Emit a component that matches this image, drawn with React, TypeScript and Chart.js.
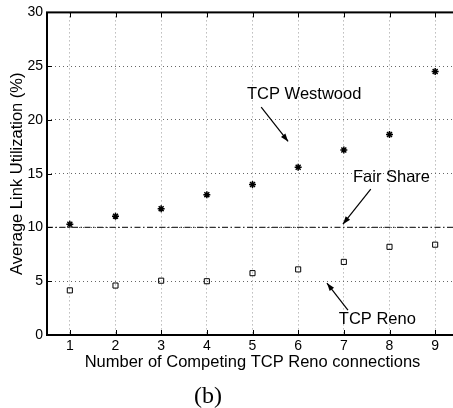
import React, { useEffect, useRef } from "react";
import { Chart, registerables } from "chart.js";

Chart.register(...registerables);

// Number of competing TCP Reno connections on the bottleneck link
const connections = [1, 2, 3, 4, 5, 6, 7, 8, 9];
// Average link utilization (%) of the single TCP Westwood flow
const westwoodUtil = [10.3, 11.05, 11.75, 13.05, 14.0, 15.6, 17.2, 18.65, 24.5];
// Average link utilization (%) of each TCP Reno flow
const renoUtil = [4.15, 4.6, 5.05, 5.0, 5.75, 6.1, 6.8, 8.2, 8.4];
// Fair share of the link (%)
const fairShare = 10;
const yTicks = [0, 5, 10, 15, 20, 25, 30];

const SANS = '"Liberation Sans", Arial, Helvetica, sans-serif';

// Callout labels with arrows, placed in data units
const callouts = [
  { text: "TCP Westwood", at: [4.88, 22.4], from: [5.19, 21.18], to: [5.78, 18.0] },
  { text: "Fair Share", at: [7.2, 14.63], from: [7.59, 13.56], to: [6.98, 10.3] },
  { text: "TCP Reno", at: [6.89, 1.49], from: [7.09, 2.32], to: [6.63, 4.83] },
];

const framePlugin = {
  id: "matlabFrame",
  afterDraw(chart: any) {
    const { ctx, chartArea: a, scales } = chart;
    const x = scales.x;
    const y = scales.y;
    ctx.save();
    ctx.strokeStyle = "#000";
    ctx.lineWidth = 1;
    const seg = (x1: number, y1: number, x2: number, y2: number) => {
      ctx.beginPath();
      ctx.moveTo(x1, y1);
      ctx.lineTo(x2, y2);
      ctx.stroke();
    };
    // inward tick marks
    x.ticks.forEach((t: any) => {
      const px = Math.round(x.getPixelForValue(t.value)) + 0.5;
      seg(px, a.bottom, px, a.bottom - 5);
      seg(px, a.top, px, a.top + 5);
    });
    y.ticks.forEach((t: any) => {
      const py = Math.round(y.getPixelForValue(t.value)) + 0.5;
      seg(a.left, py, a.left + 5, py);
      seg(a.right, py, a.right - 5, py);
    });
    // axes box
    ctx.lineWidth = 2;
    ctx.strokeRect(a.left, a.top, a.right - a.left, a.bottom - a.top);

    // callouts
    ctx.fillStyle = "#000";
    ctx.font = `16.5px ${SANS}`;
    ctx.textAlign = "left";
    ctx.textBaseline = "middle";
    callouts.forEach((c) => {
      ctx.fillText(c.text, x.getPixelForValue(c.at[0]), y.getPixelForValue(c.at[1]));
      const x1 = x.getPixelForValue(c.from[0]);
      const y1 = y.getPixelForValue(c.from[1]);
      const x2 = x.getPixelForValue(c.to[0]);
      const y2 = y.getPixelForValue(c.to[1]);
      ctx.lineWidth = 1.2;
      seg(x1, y1, x2, y2);
      const ang = Math.atan2(y2 - y1, x2 - x1);
      const len = 8;
      const half = 2.8;
      const bx = x2 - len * Math.cos(ang);
      const by = y2 - len * Math.sin(ang);
      ctx.beginPath();
      ctx.moveTo(x2, y2);
      ctx.lineTo(bx + half * Math.sin(ang), by - half * Math.cos(ang));
      ctx.lineTo(bx - half * Math.sin(ang), by + half * Math.cos(ang));
      ctx.closePath();
      ctx.fill();
    });
    ctx.restore();
  },
};

export default function App() {
  const ref = useRef<HTMLCanvasElement | null>(null);

  useEffect(() => {
    if (!ref.current) return;
    const chart = new Chart(ref.current, {
      type: "scatter",
      data: {
        datasets: [
          {
            label: "Fair Share",
            type: "line",
            data: [
              { x: 0.5, y: fairShare },
              { x: 9.5, y: fairShare },
            ],
            borderColor: "#333",
            borderWidth: 1.3,
            borderDash: [6, 2.5, 1.5, 2.5],
            pointRadius: 0,
            fill: false,
          },
          {
            label: "TCP Westwood",
            data: connections.map((c, i) => ({ x: c, y: westwoodUtil[i] })),
            pointStyle: "star",
            pointRadius: 3.5,
            borderColor: "#000",
            backgroundColor: "#000",
            borderWidth: 1.5,
          },
          {
            label: "TCP Reno",
            data: connections.map((c, i) => ({ x: c, y: renoUtil[i] })),
            pointStyle: "rect",
            pointRadius: 3.6,
            borderColor: "#000",
            backgroundColor: "rgba(0,0,0,0)",
            borderWidth: 1,
          },
        ],
      },
      options: {
        responsive: false,
        animation: false,
        devicePixelRatio: 1,
        layout: { padding: { top: 12, right: 12, left: 0, bottom: 36 } },
        plugins: {
          legend: { display: false },
          tooltip: { enabled: false },
        },
        scales: {
          x: {
            type: "linear",
            min: 0.5,
            max: 9.5,
            afterBuildTicks: (scale: any) => {
              scale.ticks = connections.map((v) => ({ value: v }));
            },
            afterFit: (scale: any) => {
              scale.height = 37;
            },
            // dotted grid lines (border.dash styles the grid in Chart.js 4)
            border: { display: false, dash: [1, 3] },
            grid: {
              color: "#999",
              lineWidth: 1,
              drawTicks: false,
            },
            ticks: {
              color: "#000",
              font: { family: SANS, size: 14, lineHeight: 1.2 },
              padding: 3,
              maxRotation: 0,
              callback: (v: any) => String(v),
            },
            title: {
              display: true,
              text: "Number of Competing TCP Reno connections",
              color: "#000",
              font: { family: SANS, size: 16.5, lineHeight: 1 },
              padding: { top: 0, bottom: 1 },
            },
          },
          y: {
            type: "linear",
            min: 0,
            max: 30,
            afterBuildTicks: (scale: any) => {
              scale.ticks = yTicks.map((v) => ({ value: v }));
            },
            afterFit: (scale: any) => {
              scale.width = 47;
            },
            border: { display: false, dash: [1, 3] },
            grid: {
              color: "#666",
              lineWidth: 1,
              drawTicks: false,
            },
            ticks: {
              color: "#000",
              font: { family: SANS, size: 14, lineHeight: 1.2 },
              padding: 4,
            },
            title: {
              display: true,
              text: "Average Link Utilization (%)",
              color: "#000",
              font: { family: SANS, size: 16.5, lineHeight: 1 },
              padding: { top: 9, bottom: 0 },
            },
          },
        },
      },
      plugins: [framePlugin],
    } as any);
    return () => chart.destroy();
  }, []);

  return (
    <div style={{ position: "fixed", left: 0, top: 0, width: 453, height: 408, overflow: "hidden", background: "#fff" }}>
      <canvas ref={ref} width={470} height={408} style={{ width: 470, height: 408, display: "block" }} />
      <div
        style={{
          position: "absolute",
          left: 0,
          top: 383,
          width: 416,
          textAlign: "center",
          fontFamily: '"Liberation Serif", "Times New Roman", serif',
          fontSize: 24,
          lineHeight: "24px",
          color: "#000",
        }}
      >
        (b)
      </div>
    </div>
  );
}
